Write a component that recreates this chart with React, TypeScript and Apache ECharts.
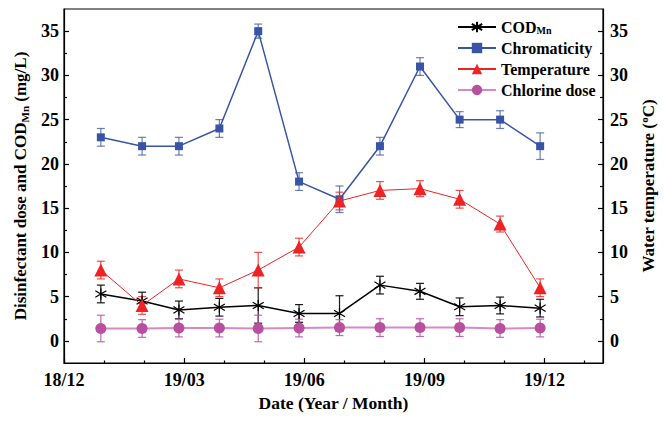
import React, { useEffect, useRef } from "react";
import * as echarts from "echarts";

// Sampling dates as months elapsed since 2018-12
const months = [0.92, 1.95, 2.87, 3.88, 4.85, 5.87, 6.88, 7.89, 8.89, 9.88, 10.89, 11.89];

const codMn = [5.3, 4.5, 3.5, 3.8, 4.0, 3.1, 3.1, 6.3, 5.6, 3.85, 4.0, 3.7];
const codMnErr = [1, 1, 1, 1, 2, 1, 2, 1, 0.9, 1, 0.95, 1];

const chromaticity = [23, 22, 22, 24, 35, 18, 16, 22, 31, 25, 25, 22];
const chromaticityErr = [1, 1, 1, 1, 0.8, 1, 1.5, 1, 1, 0.9, 1, 1.5];

const temperature = [8.0, 4.0, 7.0, 6.0, 8.0, 10.6, 15.8, 17.0, 17.2, 16.0, 13.2, 6.0];
const temperatureErr = [1, 1, 1, 1, 2, 1, 1, 1, 0.9, 1, 0.9, 1];

const chlorine = [1.4, 1.4, 1.45, 1.45, 1.4, 1.45, 1.5, 1.5, 1.5, 1.5, 1.4, 1.45];
const chlorineErr = [1.5, 1, 1, 1, 1.5, 1, 0.9, 1, 1, 1, 1, 1];

const xTickValues = [0, 3, 6, 9, 12];
const xTickLabels = ["18/12", "19/03", "19/06", "19/09", "19/12"];
const xMinorTicks = [1, 2, 4, 5, 7, 8, 10, 11, 13];
const yTickValues = [0, 5, 10, 15, 20, 25, 30, 35];
const yMinorTicks = [2.5, 7.5, 12.5, 17.5, 22.5, 27.5, 32.5];

const FONT = "'Liberation Serif', 'Times New Roman', serif";
const BLACK = "#000000";
const BLUE = "#3a54a5";
const RED = "#ee2424";
const PINK = "#b9509f";
const PINK_LINE = "#d68ac5";

const ASTERISK = "path://M5,0 L5,10 M1,2 L9,8 M1,8 L9,2";

function errorBars(name: string, values: number[], errs: number[], color: string, yAxisIndex: number, opacity: number) {
  return {
    type: "custom",
    name,
    xAxisIndex: 0,
    yAxisIndex,
    silent: true,
    data: months.map((m, i) => [m, values[i] - errs[i], values[i] + errs[i]]),
    encode: { x: 0, y: [1, 2] },
    renderItem: (_params: any, api: any) => {
      const x = api.value(0);
      const lo = api.coord([x, api.value(1)]);
      const hi = api.coord([x, api.value(2)]);
      const hw = 4;
      const style = { stroke: color, lineWidth: 1.2, opacity };
      return {
        type: "group",
        children: [
          { type: "line", shape: { x1: hi[0], y1: hi[1], x2: lo[0], y2: lo[1] }, style },
          { type: "line", shape: { x1: hi[0] - hw, y1: hi[1], x2: hi[0] + hw, y2: hi[1] }, style },
          { type: "line", shape: { x1: lo[0] - hw, y1: lo[1], x2: lo[0] + hw, y2: lo[1] }, style },
        ],
      };
    },
  };
}

const axisLineStyle = { color: BLACK, width: 1.2 };
const labelStyle = { color: BLACK, fontFamily: FONT, fontWeight: "bold" as const, fontSize: 18 };

export default function App() {
  const ref = useRef<HTMLDivElement>(null);

  useEffect(() => {
    if (!ref.current) return;
    const chart = echarts.init(ref.current, undefined, { renderer: "svg" });

    const yMain = (position: "left" | "right", name: string, margin: number, nameGap: number) => ({
      type: "value",
      position,
      min: -2.5,
      max: 37.5,
      name,
      nameLocation: "middle",
      nameRotate: 90,
      nameGap,
      nameTextStyle: {
        ...labelStyle,
        fontSize: 17,
        rich: {
          sub: { fontFamily: FONT, fontWeight: "bold", fontSize: 11, verticalAlign: "bottom", lineHeight: 11 },
          sup: { fontFamily: FONT, fontWeight: "bold", fontSize: 11, verticalAlign: "top", lineHeight: 11 },
        },
        lineHeight: 20,
      },
      axisLine: { show: true, onZero: false, lineStyle: axisLineStyle },
      axisTick: { show: true, inside: true, length: 5, customValues: yTickValues, lineStyle: axisLineStyle },
      axisLabel: { ...labelStyle, margin, customValues: yTickValues },
      splitLine: { show: false },
    });

    const yMinor = (position: "left" | "right") => ({
      type: "value",
      position,
      min: -2.5,
      max: 37.5,
      axisLine: { show: false, onZero: false },
      axisTick: { show: true, inside: true, length: 3, customValues: yMinorTicks, lineStyle: axisLineStyle },
      axisLabel: { show: false },
      splitLine: { show: false },
    });

    chart.setOption({
      animation: false,
      backgroundColor: "#ffffff",
      grid: {
        left: 64,
        right: 65,
        top: 9,
        bottom: 58,
        show: true,
        borderColor: BLACK,
        borderWidth: 1.2,
        containLabel: false,
      },
      legend: {
        orient: "vertical",
        left: 452,
        top: 14,
        itemWidth: 38,
        itemHeight: 13,
        itemGap: 5,
        data: ["COD", "Chromaticity", "Temperature", "Chlorine dose"],
        formatter: (name: string) => (name === "COD" ? "COD{sub|Mn}" : name),
        textStyle: {
          color: BLACK,
          fontFamily: FONT,
          fontWeight: "bold",
          fontSize: 16,
          rich: {
            sub: { fontFamily: FONT, fontWeight: "bold", fontSize: 10, verticalAlign: "bottom", lineHeight: 10, color: BLACK },
          },
        },
      },
      xAxis: [
        {
          type: "value",
          min: 0,
          max: 13.46,
          name: "Date (Year / Month)",
          nameLocation: "middle",
          nameGap: 31,
          nameTextStyle: { ...labelStyle, fontSize: 17.5 },
          axisLine: { show: true, onZero: false, lineStyle: axisLineStyle },
          axisTick: { show: true, inside: true, length: 5, customValues: xTickValues, lineStyle: axisLineStyle },
          axisLabel: {
            ...labelStyle,
            margin: 8,
            customValues: xTickValues,
            formatter: (v: number) => {
              const i = xTickValues.indexOf(Math.round(v));
              return i >= 0 ? xTickLabels[i] : "";
            },
          },
          splitLine: { show: false },
        },
        {
          type: "value",
          min: 0,
          max: 13.46,
          position: "bottom",
          axisLine: { show: false, onZero: false },
          axisTick: { show: true, inside: true, length: 2.5, customValues: xMinorTicks, lineStyle: axisLineStyle },
          axisLabel: { show: false },
          splitLine: { show: false },
        },
      ],
      yAxis: [
        yMain("left", "Disinfectant dose and COD{sub|Mn} (mg/L)", 5, 29),
        yMain("right", "Water temperature ({sup|o}C)", 7, 27),
        yMinor("left"),
        yMinor("right"),
      ],
      series: [
        errorBars("COD error", codMn, codMnErr, BLACK, 0, 0.9),
        {
          type: "line",
          name: "COD",
          data: months.map((m, i) => [m, codMn[i]]),
          yAxisIndex: 0,
          symbol: ASTERISK,
          symbolSize: 11,
          showAllSymbol: true,
          lineStyle: { color: BLACK, width: 1.5 },
          itemStyle: { color: BLACK, borderColor: BLACK, borderWidth: 1.2 },
        },
        errorBars("Chromaticity error", chromaticity, chromaticityErr, BLUE, 0, 0.75),
        {
          type: "line",
          name: "Chromaticity",
          data: months.map((m, i) => [m, chromaticity[i]]),
          yAxisIndex: 0,
          symbol: "rect",
          symbolSize: 8,
          lineStyle: { color: BLUE, width: 1.5 },
          itemStyle: { color: BLUE, borderWidth: 0 },
        },
        errorBars("Temperature error", temperature, temperatureErr, RED, 1, 0.8),
        {
          type: "line",
          name: "Temperature",
          data: months.map((m, i) => [m, temperature[i]]),
          yAxisIndex: 1,
          symbol: "triangle",
          symbolSize: 13,
          lineStyle: { color: RED, width: 1 },
          itemStyle: { color: RED, borderWidth: 0 },
        },
        errorBars("Chlorine error", chlorine, chlorineErr, PINK, 0, 0.85),
        {
          type: "line",
          name: "Chlorine dose",
          data: months.map((m, i) => [m, chlorine[i]]),
          yAxisIndex: 0,
          symbol: "circle",
          symbolSize: 11,
          lineStyle: { color: PINK_LINE, width: 2 },
          itemStyle: { color: PINK, borderWidth: 0 },
        },
      ],
    });

    return () => chart.dispose();
  }, []);

  return <div ref={ref} style={{ position: "absolute", left: 0, top: 0, width: 668, height: 421 }} />;
}
